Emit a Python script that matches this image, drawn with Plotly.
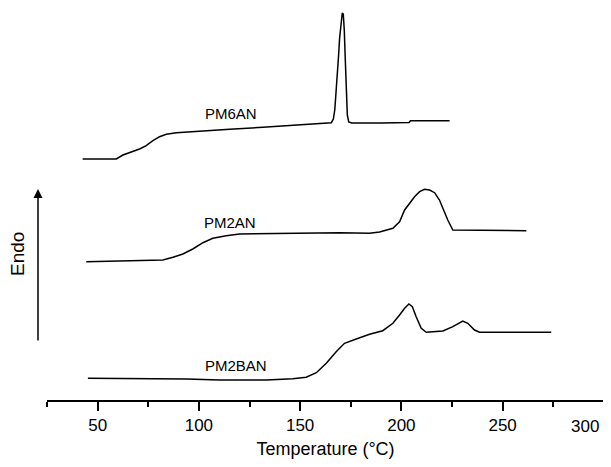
import plotly.graph_objects as go

# Temperature (°C) and heat flow (arbitrary units, curves stacked)
pm6an_T = [42.6, 59.2, 62.5, 65.8, 70.7, 74.0, 77.3, 80.6, 83.9, 88.9, 98.7, 115.2, 131.6,
           148.1, 159.6, 165.4, 166.4, 167.1, 167.8, 168.5, 169.0, 169.5, 170.3, 170.8,
           171.3, 171.8, 172.3, 172.8, 173.3, 174.0, 175.5, 190.0, 203.8, 204.5, 223.8]
pm6an_H = [24.1, 24.1, 24.5, 24.73, 25.1, 25.43, 25.93, 26.33, 26.57, 26.73, 26.83, 27.07, 27.27,
           27.47, 27.67, 27.73, 28.1, 29.0, 31.0, 32.7, 34.5, 36.2, 37.8, 38.7,
           38.6, 37.0, 34.0, 30.5, 28.5, 27.8, 27.7, 27.7, 27.75, 27.93, 27.93]

pm2an_T = [44.4, 82.2, 87.2, 92.1, 97.0, 102.0, 106.9, 113.5, 120.1, 139.9, 169.5, 184.3, 189.2,
           195.8, 199.1, 201.6, 204.0, 206.5, 209.0, 211.4, 213.9, 216.4, 218.8, 221.3,
           222.9, 225.4, 261.7]
pm2an_H = [13.83, 14.0, 14.27, 14.6, 15.1, 15.73, 16.17, 16.43, 16.6, 16.67, 16.73, 16.67, 16.8,
           17.17, 17.83, 19.0, 19.67, 20.33, 20.83, 21.07, 21.0, 20.73, 20.0, 18.67,
           18.0, 17.0, 16.93]

pm2ban_T = [45.2, 93.8, 110.2, 133.3, 146.4, 153.0, 158.0, 162.9, 167.8, 171.9, 177.7, 184.3,
            190.8, 195.8, 199.1, 201.6, 203.7, 205.4, 207.3, 209.8, 212.3, 220.5, 225.4,
            230.3, 232.8, 236.1, 238.6, 274.0]
pm2ban_H = [2.17, 2.1, 2.0, 2.0, 2.13, 2.27, 2.73, 3.67, 4.83, 5.67, 6.1, 6.57,
            6.93, 7.67, 8.5, 9.17, 9.6, 9.33, 8.33, 7.17, 6.77, 6.9, 7.33,
            7.9, 7.67, 7.0, 6.77, 6.77]

labels = ["PM6AN", "PM2AN", "PM2BAN"]
label_T = [115.8, 115.3, 118.3]
label_H = [28.7, 17.8, 3.5]

x_ticks = [50, 100, 150, 200, 250, 300]

FONT = "Liberation Sans, Arial, Helvetica, sans-serif"

fig = go.Figure()
for T, H, name in [(pm6an_T, pm6an_H, "PM6AN"), (pm2an_T, pm2an_H, "PM2AN"),
                   (pm2ban_T, pm2ban_H, "PM2BAN")]:
    fig.add_trace(go.Scatter(x=T, y=H, mode="lines", name=name,
                             line=dict(color="black", width=1.5), showlegend=False))

for name, tx, ty in zip(labels, label_T, label_H):
    fig.add_annotation(x=tx, y=ty, text=name, showarrow=False,
                       font=dict(family=FONT, size=15, color="black"))

PH = 392.0  # plot area height in px
# Endo arrow
fig.add_annotation(x=(38 - 47) / 557, y=(400 - 189) / PH, xref="paper", yref="paper",
                   ax=0, ay=153, axref="pixel", ayref="pixel", text="",
                   showarrow=True, arrowhead=2, arrowsize=1.2, arrowwidth=1.5,
                   arrowcolor="black")
fig.add_annotation(x=(17 - 47) / 557, y=(400 - 254) / PH, xref="paper", yref="paper",
                   xanchor="center", yanchor="middle",
                   text="Endo", textangle=-90, showarrow=False,
                   font=dict(family=FONT, size=19, color="black"))

# last tick label, pulled inside the page like in the original
fig.add_annotation(x=x_ticks[-1], y=0, xref="x", yref="paper", xanchor="right",
                   yanchor="top", yshift=-15, xshift=-3, text=str(x_ticks[-1]),
                   showarrow=False, font=dict(family=FONT, size=17, color="black"))

fig.update_layout(
    width=603, height=451,
    margin=dict(l=39, r=7, t=0, b=59, autoexpand=False),
    paper_bgcolor="white", plot_bgcolor="white",
    font=dict(family=FONT, color="black"),
    xaxis=dict(range=[25, 300.05], tickvals=x_ticks,
               ticktext=[str(v) for v in x_ticks[:-1]] + [""],
               automargin=False, ticklabeloverflow="allow",
               showline=True, linecolor="black", linewidth=1.5,
               ticks="outside", ticklen=9, tickwidth=1.5, tickcolor="black",
               minor=dict(dtick=25, tick0=25, ticks="outside", ticklen=5,
                          tickwidth=1.5, tickcolor="black"),
               showgrid=False, zeroline=False,
               tickfont=dict(family=FONT, size=17, color="black"),
               title=dict(text="Temperature (°C)", standoff=12,
                          font=dict(family=FONT, size=18, color="black"))),
    yaxis=dict(range=[0, 39.2], visible=False, showgrid=False, zeroline=False,
               automargin=False),
)

fig.write_html("out.html")
